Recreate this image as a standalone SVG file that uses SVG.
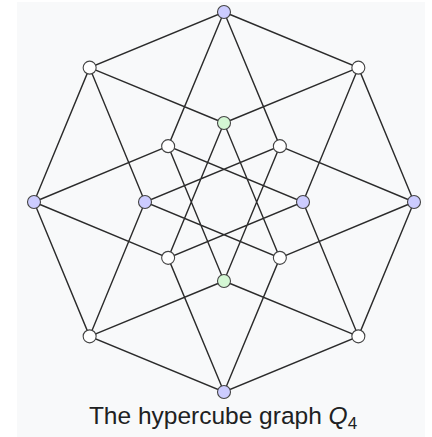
<svg xmlns="http://www.w3.org/2000/svg" width="432" height="437" viewBox="0 0 432 437">
<style>
.e{stroke:#2b2b2b;stroke-width:1.4;fill:none}
.n{stroke:#444;stroke-width:1.1}
.w{fill:#ffffff}
.b{fill:#ccccff}
.g{fill:#d4f7d4}
.cap{font-family:"Liberation Sans",Arial,sans-serif;font-size:24.5px;fill:#202122}
</style>
<rect x="0" y="0" width="432" height="437" fill="#ffffff"/>
<rect x="17" y="2" width="408" height="435" fill="#f8f9fa"/>
<g id="connectors">
<path class="e" d="M224,12 L358.35,67.65 L414,202 L358.35,336.35 L224,392 L89.65,336.35 L34,202 L89.65,67.65 Z"/>
<path class="e" d="M224,12 L279.86,146.14 M224,12 L168.14,146.14
M358.35,67.65 L224,123 M358.35,67.65 L303,202
M414,202 L279.86,146.14 M414,202 L279.86,257.86
M358.35,336.35 L303,202 M358.35,336.35 L224,281
M224,392 L279.86,257.86 M224,392 L168.14,257.86
M89.65,336.35 L224,281 M89.65,336.35 L145,202
M34,202 L168.14,257.86 M34,202 L168.14,146.14
M89.65,67.65 L145,202 M89.65,67.65 L224,123"/>
<path class="e" d="M224,123 L168.14,257.86 L303,202 L168.14,146.14 L224,281 L279.86,146.14 L145,202 L279.86,257.86 Z"/>
</g>
<g id="o90"><circle class="n b" cx="224" cy="12" r="6.5"/></g>
<g id="o45"><circle class="n w" cx="358.35" cy="67.65" r="6.5"/></g>
<g id="o0"><circle class="n b" cx="414" cy="202" r="6.5"/></g>
<g id="o315"><circle class="n w" cx="358.35" cy="336.35" r="6.5"/></g>
<g id="o270"><circle class="n b" cx="224" cy="392" r="6.5"/></g>
<g id="o225"><circle class="n w" cx="89.65" cy="336.35" r="6.5"/></g>
<g id="o180"><circle class="n b" cx="34" cy="202" r="6.5"/></g>
<g id="o135"><circle class="n w" cx="89.65" cy="67.65" r="6.5"/></g>
<g id="i90"><circle class="n g" cx="224" cy="123" r="6.5"/></g>
<g id="i45"><circle class="n w" cx="279.86" cy="146.14" r="6.5"/></g>
<g id="i0"><circle class="n b" cx="303" cy="202" r="6.5"/></g>
<g id="i315"><circle class="n w" cx="279.86" cy="257.86" r="6.5"/></g>
<g id="i270"><circle class="n g" cx="224" cy="281" r="6.5"/></g>
<g id="i225"><circle class="n w" cx="168.14" cy="257.86" r="6.5"/></g>
<g id="i180"><circle class="n b" cx="145" cy="202" r="6.5"/></g>
<g id="i135"><circle class="n w" cx="168.14" cy="146.14" r="6.5"/></g>
<text class="cap" x="223" y="424" text-anchor="middle">The hypercube graph <tspan font-style="italic">Q</tspan><tspan font-size="17" dy="5">4</tspan></text>
</svg>
